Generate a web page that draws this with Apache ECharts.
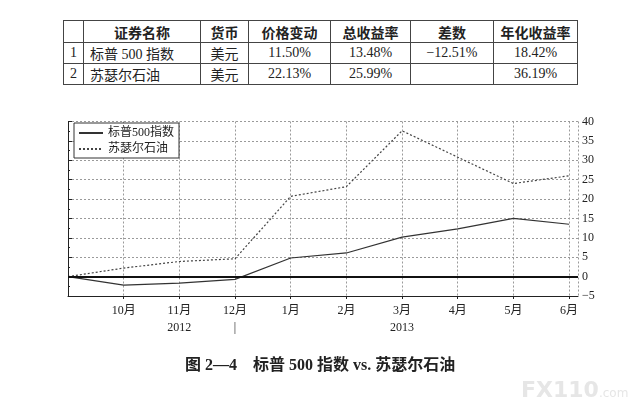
<!DOCTYPE html>
<html><head><meta charset="utf-8">
<script src="https://cdn.jsdelivr.net/npm/echarts@6/dist/echarts.min.js"></script>
<style>
html,body{margin:0;padding:0;background:#fff;width:629px;height:409px;overflow:hidden;}
#chart{position:absolute;left:0;top:0;width:629px;height:409px;}
#tbl{position:absolute;left:63px;top:20px;width:514px;border-collapse:collapse;table-layout:fixed;border:1.6px solid #222;z-index:2;background:#fff;}
#tbl th,#tbl td{border:1px solid #444;padding:0;color:#222;white-space:nowrap;}
#tbl th{font-family:"Noto Sans CJK SC",sans-serif;font-weight:bold;font-size:14px;height:21px;text-align:center;}
#tbl td{font-family:"Liberation Serif","Noto Sans CJK SC",serif;font-size:14px;height:20px;text-align:center;}
#tbl td.name{text-align:left;padding-left:6px;}
#caption{position:absolute;left:185px;top:351px;font-family:"Liberation Serif","Noto Sans CJK SC",serif;font-weight:bold;font-size:16px;color:#222;white-space:pre;z-index:2;}
#wm{position:absolute;left:521px;top:377px;font-family:"DejaVu Sans",sans-serif;font-weight:bold;font-size:22px;color:#e6e6e6;z-index:2;}
#wm span{font-size:12px;font-weight:normal;}
</style>
</head><body>
<div id="chart"></div>
<table id="tbl"></table>
<div id="caption"></div>
<div id="wm">FX110<span>.com</span></div>
<script>
// ---- table data ----
const tableHeaders = ['', '证券名称', '货币', '价格变动', '总收益率', '差数', '年化收益率'];
const columnWidths = [20, 117, 48, 82, 80, 83, 84];
const rowIndex = ['1', '2'];
const securityNames = ['标普 500 指数', '苏瑟尔石油'];
const currencies = ['美元', '美元'];
const priceChange = ['11.50%', '22.13%'];
const totalReturn = ['13.48%', '25.99%'];
const difference = ['−12.51%', ''];
const annualReturn = ['18.42%', '36.19%'];

// ---- chart data ----
const monthLabels = ['9月', '10月', '11月', '12月', '1月', '2月', '3月', '4月', '5月', '6月'];
const monthPos = [0, 1, 2, 3, 4, 5, 6, 7, 8, 9];
const yearLabels = {2: '2012', 6: '2013'};
const sp500 = [0, -2.2, -1.7, -0.7, 4.8, 6.1, 10.2, 12.3, 15.0, 13.5];
const sunoco = [0, 2.2, 3.9, 4.6, 20.7, 23.2, 37.6, 30.8, 24.0, 26.0];
const seriesNames = ['标普500指数', '苏瑟尔石油'];
const captionText = '图 2—4    标普 500 指数 vs. 苏瑟尔石油';

// build table
const tbl = document.getElementById('tbl');
let html = '<colgroup>' + columnWidths.map(w => '<col style="width:' + w + 'px">').join('') + '</colgroup>';
html += '<tr>' + tableHeaders.map(h => '<th>' + h + '</th>').join('') + '</tr>';
for (let i = 0; i < rowIndex.length; i++) {
  html += '<tr><td>' + rowIndex[i] + '</td><td class="name">' + securityNames[i] + '</td><td>' + currencies[i] +
    '</td><td>' + priceChange[i] + '</td><td>' + totalReturn[i] + '</td><td>' + difference[i] + '</td><td>' + annualReturn[i] + '</td></tr>';
}
tbl.innerHTML = html;
document.getElementById('caption').textContent = captionText;

const serif = 'Liberation Serif, Noto Sans CJK SC, serif';
const chart = echarts.init(document.getElementById('chart'));
chart.setOption({
  animation: false,
  backgroundColor: '#fff',
  grid: {left: 68, right: 51, top: 121.5, bottom: 113},
  legend: {
    left: 74, top: 123, orient: 'vertical',
    borderColor: '#333', borderWidth: 1, padding: [4, 5, 3, 4],
    itemWidth: 24, itemHeight: 10, itemGap: 4, backgroundColor: '#fff',
    itemStyle: {opacity: 0},
    textStyle: {fontFamily: serif, fontSize: 12, color: '#222'},
    data: seriesNames
  },
  xAxis: {
    type: 'value', min: 0, max: 9.16, interval: 1,
    axisLine: {onZero: false, lineStyle: {color: '#222', width: 1}},
    axisTick: {show: true, length: 3, lineStyle: {color: '#222'}},
    axisLabel: {
      showMaxLabel: false, showMinLabel: false, margin: 6, color: '#222',
      fontFamily: serif, fontSize: 12, lineHeight: 17,
      formatter: function (v) {
        const i = Math.round(v);
        if (Math.abs(v - i) > 1e-6 || i < 1 || i > 9) return '';
        let s = monthLabels[i];
        if (yearLabels[i]) s += '\n' + yearLabels[i];
        else if (i === 3) s += '\n|';
        return s;
      }
    },
    splitLine: {show: true, lineStyle: {type: [2, 2], color: '#9a9a9a', width: 1}}
  },
  yAxis: {
    type: 'value', position: 'right', min: -5, max: 40, interval: 5,
    axisLine: {show: true, lineStyle: {color: '#222', width: 1}},
    axisTick: {show: true, length: 4, lineStyle: {color: '#222'}},
    minorTick: {show: true, splitNumber: 2, length: 2, lineStyle: {color: '#222'}},
    axisLabel: {margin: 4, color: '#222', fontFamily: serif, fontSize: 12,
      formatter: v => (v < 0 ? '−' + (-v) : String(v))},
    splitLine: {show: true, lineStyle: {type: [2, 2], color: '#9a9a9a', width: 1}}
  },
  series: [
    {
      name: seriesNames[0], type: 'line', symbol: 'none',
      data: monthPos.map((x, i) => [x, sp500[i]]),
      lineStyle: {color: '#333', width: 1.2},
      itemStyle: {color: '#333'},
      markLine: {
        silent: true, symbol: 'none', label: {show: false},
        lineStyle: {color: '#111', width: 1.8, type: 'solid'},
        data: [{yAxis: 0}]
      }
    },
    {
      name: seriesNames[1], type: 'line', symbol: 'none',
      data: monthPos.map((x, i) => [x, sunoco[i]]),
      lineStyle: {color: '#444', width: 1.2, type: [2, 2]},
      itemStyle: {color: '#444'}
    }
  ]
});
</script>
</body></html>
